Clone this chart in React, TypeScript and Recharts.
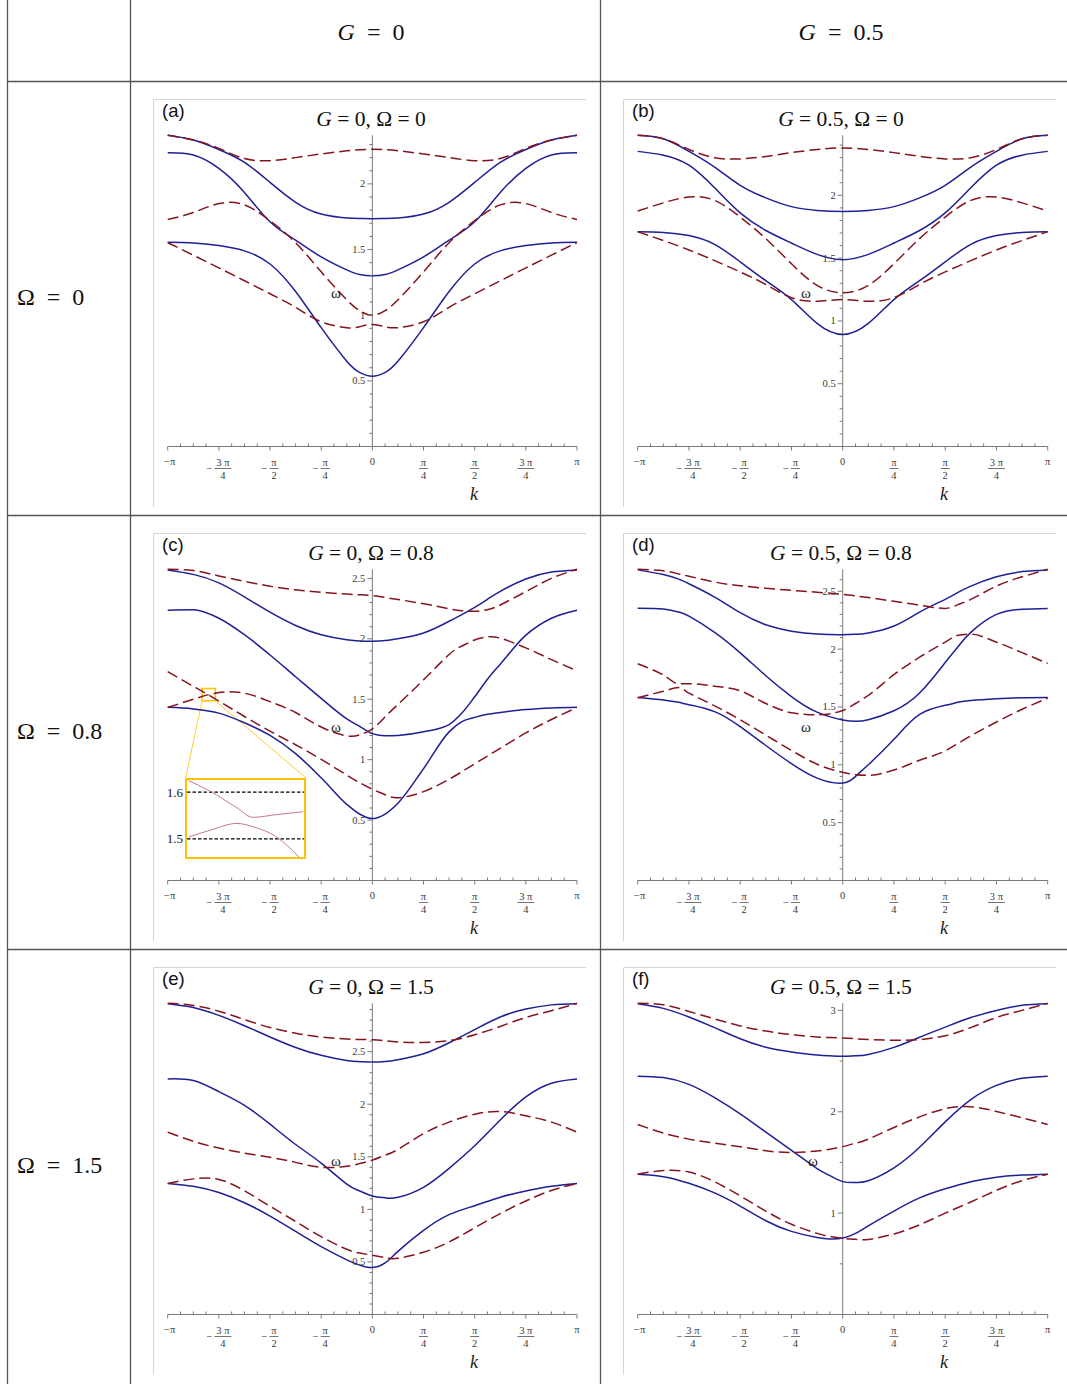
import React from 'react';
import { LineChart, Line, XAxis, YAxis, ReferenceLine, ReferenceArea } from 'recharts';

const BLUE = '#1f1f96';
const RED = '#86141f';
const AXIS = '#7a7a7a';
const TXT = '#3a3a3a';
const SERIF = '"Liberation Serif", "Times New Roman", serif';
const SANS = '"Liberation Sans", Arial, sans-serif';

// k grids, in units of pi
const K17 = [-1, -0.875, -0.75, -0.625, -0.5, -0.375, -0.25, -0.125, 0, 0.125, 0.25, 0.375, 0.5, 0.625, 0.75, 0.875, 1];
const K19 = [-1, -0.875, -0.75, -0.625, -0.5, -0.375, -0.25, -0.125, -0.0625, 0, 0.0625, 0.125, 0.25, 0.375, 0.5, 0.625, 0.75, 0.875, 1];
const K_C = [-1, -0.875, -0.75, -0.625, -0.5, -0.375, -0.25, -0.125, -0.0625, 0, 0.0625, 0.125, 0.25, 0.375, 0.4375, 0.5, 0.5625, 0.625, 0.75, 0.875, 1];
const K_D = [-1, -0.875, -0.8, -0.75, -0.625, -0.5, -0.375, -0.25, -0.125, 0, 0.0625, 0.125, 0.25, 0.375, 0.5, 0.5625, 0.625, 0.75, 0.875, 1];

// (a) G=0, Omega=0
const A_B1 = [2.37, 2.334, 2.262, 2.164, 2.011, 1.86, 1.77, 1.74, 1.736, 1.735, 1.736, 1.74, 1.77, 1.86, 2.011, 2.164, 2.262, 2.334, 2.37];
const A_B2 = [2.237, 2.22, 2.118, 1.935, 1.711, 1.571, 1.444, 1.345, 1.31, 1.3, 1.31, 1.345, 1.444, 1.571, 1.711, 1.935, 2.118, 2.22, 2.237];
const A_B3 = [1.555, 1.55, 1.53, 1.49, 1.39, 1.18, 0.905, 0.65, 0.565, 0.535, 0.565, 0.65, 0.905, 1.18, 1.39, 1.49, 1.53, 1.55, 1.555];
const A_R1 = [2.37, 2.334, 2.27, 2.193, 2.177, 2.2, 2.228, 2.252, 2.26, 2.263, 2.26, 2.252, 2.228, 2.2, 2.177, 2.193, 2.27, 2.334, 2.37];
const A_R2 = [1.728, 1.782, 1.85, 1.84, 1.72, 1.552, 1.33, 1.117, 1.035, 1.0, 1.035, 1.117, 1.33, 1.552, 1.72, 1.84, 1.85, 1.782, 1.728];
const A_R3 = [1.553, 1.457, 1.36, 1.262, 1.163, 1.06, 0.95, 0.905, 0.912, 0.93, 0.912, 0.905, 0.95, 1.06, 1.163, 1.262, 1.36, 1.457, 1.553];

// (b) G=0.5, Omega=0
const B_B1 = [2.478, 2.45, 2.35, 2.225, 2.08, 1.98, 1.91, 1.88, 1.872, 1.88, 1.91, 1.98, 2.08, 2.225, 2.35, 2.45, 2.478];
const B_B2 = [2.35, 2.32, 2.24, 2.06, 1.86, 1.72, 1.62, 1.53, 1.487, 1.53, 1.62, 1.72, 1.86, 2.06, 2.24, 2.32, 2.35];
const B_B3 = [1.71, 1.705, 1.68, 1.61, 1.47, 1.32, 1.17, 0.98, 0.892, 0.98, 1.17, 1.32, 1.47, 1.61, 1.68, 1.705, 1.71];
const B_R1 = [2.478, 2.45, 2.365, 2.3, 2.29, 2.31, 2.34, 2.365, 2.377, 2.365, 2.34, 2.31, 2.29, 2.3, 2.365, 2.45, 2.478];
const B_R2 = [1.875, 1.94, 1.987, 1.96, 1.827, 1.655, 1.455, 1.283, 1.224, 1.283, 1.455, 1.655, 1.827, 1.96, 1.987, 1.94, 1.875];
const B_R3 = [1.71, 1.64, 1.565, 1.48, 1.39, 1.29, 1.185, 1.157, 1.17, 1.157, 1.185, 1.29, 1.39, 1.48, 1.565, 1.64, 1.71];

// (c) G=0, Omega=0.8
const C_B1 = [2.57, 2.533, 2.463, 2.347, 2.22, 2.11, 2.034, 1.992, 1.982, 1.98, 1.985, 2.001, 2.048, 2.145, 2.2, 2.26, 2.327, 2.393, 2.495, 2.553, 2.57];
const C_B2 = [2.237, 2.24, 2.17, 2.034, 1.866, 1.686, 1.507, 1.338, 1.276, 1.215, 1.197, 1.2, 1.23, 1.29, 1.385, 1.52, 1.665, 1.79, 2.03, 2.17, 2.237];
const C_B3 = [1.433, 1.42, 1.385, 1.305, 1.2, 1.05, 0.85, 0.63, 0.55, 0.512, 0.55, 0.64, 0.925, 1.23, 1.315, 1.35, 1.376, 1.39, 1.415, 1.428, 1.433];
const C_R1 = [2.575, 2.565, 2.52, 2.475, 2.435, 2.405, 2.385, 2.37, 2.364, 2.358, 2.342, 2.325, 2.29, 2.248, 2.232, 2.228, 2.24, 2.28, 2.39, 2.5, 2.575];
const C_R2 = [1.728, 1.607, 1.485, 1.357, 1.236, 1.123, 1.002, 0.872, 0.81, 0.755, 0.71, 0.685, 0.735, 0.838, 0.9, 0.965, 1.03, 1.094, 1.221, 1.332, 1.432];
const C_R3 = [1.431, 1.5, 1.555, 1.55, 1.48, 1.39, 1.27, 1.197, 1.205, 1.255, 1.355, 1.457, 1.66, 1.87, 1.94, 1.99, 2.015, 2.005, 1.925, 1.828, 1.736];

// (d) G=0.5, Omega=0.8
const D_B1 = [2.685, 2.645, 2.605, 2.565, 2.45, 2.315, 2.21, 2.155, 2.13, 2.125, 2.128, 2.14, 2.2, 2.32, 2.43, 2.49, 2.545, 2.625, 2.67, 2.685];
const D_B2 = [2.354, 2.346, 2.32, 2.285, 2.145, 1.968, 1.77, 1.59, 1.455, 1.388, 1.376, 1.39, 1.467, 1.62, 1.884, 2.02, 2.145, 2.3, 2.345, 2.352];
const D_B3 = [1.582, 1.56, 1.54, 1.52, 1.46, 1.33, 1.167, 1.01, 0.885, 0.842, 0.9, 1.0, 1.22, 1.435, 1.514, 1.54, 1.555, 1.57, 1.58, 1.582];
const D_R1 = [2.69, 2.677, 2.65, 2.63, 2.58, 2.548, 2.526, 2.508, 2.492, 2.474, 2.46, 2.446, 2.413, 2.38, 2.352, 2.385, 2.43, 2.545, 2.625, 2.69];
const D_R2 = [1.873, 1.777, 1.7, 1.7, 1.68, 1.64, 1.53, 1.45, 1.432, 1.47, 1.53, 1.6, 1.78, 1.93, 2.06, 2.12, 2.13, 2.06, 1.97, 1.876];
const D_R3 = [1.58, 1.635, 1.668, 1.62, 1.51, 1.39, 1.257, 1.125, 1.005, 0.935, 0.915, 0.91, 0.955, 1.04, 1.12, 1.185, 1.25, 1.37, 1.48, 1.576];

// (e) G=0, Omega=1.5
const E_B1 = [2.956, 2.92, 2.845, 2.747, 2.64, 2.54, 2.465, 2.415, 2.405, 2.402, 2.407, 2.424, 2.48, 2.585, 2.71, 2.83, 2.905, 2.945, 2.956];
const E_B2 = [2.241, 2.225, 2.12, 1.99, 1.81, 1.617, 1.44, 1.24, 1.175, 1.127, 1.11, 1.115, 1.21, 1.39, 1.605, 1.85, 2.07, 2.2, 2.241];
const E_B3 = [1.247, 1.22, 1.16, 1.063, 0.936, 0.79, 0.645, 0.52, 0.47, 0.446, 0.49, 0.6, 0.8, 0.95, 1.035, 1.115, 1.175, 1.22, 1.247];
const E_R1 = [2.96, 2.94, 2.885, 2.805, 2.73, 2.675, 2.64, 2.62, 2.616, 2.614, 2.603, 2.592, 2.588, 2.605, 2.66, 2.74, 2.825, 2.89, 2.96];
const E_R2 = [1.734, 1.648, 1.583, 1.535, 1.495, 1.447, 1.4, 1.41, 1.435, 1.468, 1.515, 1.57, 1.72, 1.83, 1.905, 1.93, 1.89, 1.83, 1.734];
const E_R3 = [1.247, 1.29, 1.285, 1.177, 1.03, 0.885, 0.74, 0.62, 0.585, 0.563, 0.54, 0.535, 0.592, 0.69, 0.825, 0.96, 1.08, 1.18, 1.247];

// (f) G=0.5, Omega=1.5
const F_B1 = [3.066, 3.02, 2.935, 2.83, 2.72, 2.636, 2.59, 2.56, 2.552, 2.548, 2.552, 2.565, 2.635, 2.735, 2.835, 2.93, 3.0, 3.05, 3.066];
const F_B2 = [2.351, 2.337, 2.27, 2.14, 1.98, 1.8, 1.62, 1.44, 1.37, 1.311, 1.302, 1.32, 1.447, 1.65, 1.9, 2.12, 2.26, 2.33, 2.351];
const F_B3 = [1.384, 1.36, 1.295, 1.2, 1.07, 0.925, 0.82, 0.76, 0.746, 0.754, 0.8, 0.875, 1.02, 1.15, 1.24, 1.31, 1.355, 1.375, 1.384];
const F_R1 = [3.07, 3.056, 2.99, 2.916, 2.847, 2.796, 2.762, 2.738, 2.733, 2.728, 2.72, 2.713, 2.705, 2.712, 2.75, 2.83, 2.93, 3.0, 3.07];
const F_R2 = [1.875, 1.79, 1.73, 1.69, 1.655, 1.615, 1.598, 1.613, 1.63, 1.656, 1.69, 1.73, 1.845, 1.95, 2.03, 2.05, 2.003, 1.94, 1.875];
const F_R3 = [1.384, 1.42, 1.405, 1.31, 1.17, 1.02, 0.89, 0.8, 0.77, 0.751, 0.742, 0.74, 0.795, 0.885, 1.0, 1.11, 1.225, 1.32, 1.384];

// inset of (c): magnified avoided crossing
const INSET_K = [-0.831, -0.8186, -0.8043, -0.7954, -0.7828, -0.7676];
const INSET_UP = [1.6245, 1.6006, 1.5665, 1.546, 1.5516, 1.558];
const INSET_LO = [1.504, 1.519, 1.533, 1.526, 1.5053, 1.452];
const INSET_TICKS = [1.5, 1.6];

const X_TICKS: number[] = [];
for (let i = -16; i <= 16; i++) X_TICKS.push(i / 16);

const COLS = [131, 601];
const ROWS = [82, 516, 950];
const CELL_W = [470, 466];
const CELL_H = 434;
const PL = 36.7;
const PT = 53.3;
const PB = 364.5;
const PR = [446, 446.7];

const PANELS = [
  { tag: '(a)', G: '0', W: '0', col: 0, row: 0, k: K19, blue: [A_B1, A_B2, A_B3], red: [A_R1, A_R2, A_R3], ymax: 2.37, step: 0.1, majorEvery: 5, omegaX: 205, mono: [] as string[] },
  { tag: '(b)', G: '0.5', W: '0', col: 1, row: 0, k: K17, blue: [B_B1, B_B2, B_B3], red: [B_R1, B_R2, B_R3], ymax: 2.478, step: 0.1, majorEvery: 5, omegaX: 205, mono: [] as string[] },
  { tag: '(c)', G: '0', W: '0.8', col: 0, row: 1, k: K_C, blue: [C_B1, C_B2, C_B3], red: [C_R1, C_R2, C_R3], ymax: 2.575, step: 0.1, majorEvery: 5, omegaX: 205, mono: ['b1', 'b2'] },
  { tag: '(d)', G: '0.5', W: '0.8', col: 1, row: 1, k: K_D, blue: [D_B1, D_B2, D_B3], red: [D_R1, D_R2, D_R3], ymax: 2.69, step: 0.1, majorEvery: 5, omegaX: 205, mono: ['r1', 'r2'] },
  { tag: '(e)', G: '0', W: '1.5', col: 0, row: 2, k: K19, blue: [E_B1, E_B2, E_B3], red: [E_R1, E_R2, E_R3], ymax: 2.96, step: 0.1, majorEvery: 5, omegaX: 205, mono: [] as string[] },
  { tag: '(f)', G: '0.5', W: '1.5', col: 1, row: 2, k: K19, blue: [F_B1, F_B2, F_B3], red: [F_R1, F_R2, F_R3], ymax: 3.07, step: 0.5, majorEvery: 2, omegaX: 212, mono: [] as string[] },
];

function yTicks(ymax: number, step: number) {
  const t: number[] = [];
  for (let i = 1; i * step <= ymax + 1e-9; i++) t.push(Math.round(i * step * 1000) / 1000);
  return t;
}

function XTick(props: any) {
  const { x, payload, axisY } = props;
  const i = Math.round(payload.value * 16);
  if (i % 4 !== 0) {
    return <line x1={x} x2={x} y1={axisY - 3} y2={axisY} stroke={AXIS} strokeWidth={1} />;
  }
  const j = i / 4;
  const tick = <line x1={x} x2={x} y1={axisY} y2={axisY + 4} stroke={AXIS} strokeWidth={1} />;
  const common = { fontFamily: SERIF, fontSize: 10.5, fill: TXT };
  if (j === 0 || j === 4 || j === -4) {
    const label = j === 0 ? '0' : j === 4 ? 'π' : '−π';
    return (
      <g>
        {tick}
        <text x={x + (j === -4 ? 2 : 0)} y={axisY + 18} textAnchor="middle" {...common}>{label}</text>
      </g>
    );
  }
  const n = Math.abs(j);
  const num = n === 3 ? '3 π' : 'π';
  const den = n === 2 ? '2' : '4';
  const bw = n === 3 ? 17 : 9;
  const fx = x + (j < 0 ? 4 : 0);
  return (
    <g>
      {tick}
      {j < 0 && <text x={fx - bw / 2 - 2} y={axisY + 25} textAnchor="end" {...common}>−</text>}
      <text x={fx} y={axisY + 19} textAnchor="middle" {...common}>{num}</text>
      <line x1={fx - bw / 2} x2={fx + bw / 2} y1={axisY + 22} y2={axisY + 22} stroke={TXT} strokeWidth={0.7} />
      <text x={fx} y={axisY + 32} textAnchor="middle" {...common}>{den}</text>
    </g>
  );
}

function YTick(props: any) {
  const { y, payload, axisX, step, majorEvery } = props;
  const v = payload.value;
  const major = Math.round(v / step) % majorEvery === 0;
  return (
    <g>
      <line x1={axisX - (major ? 5 : 3)} x2={axisX} y1={y} y2={y} stroke={AXIS} strokeWidth={1} />
      {major && (
        <text x={axisX - 7} y={y + 3.5} textAnchor="end" fontFamily={SERIF} fontSize={10.5} fill={TXT}>{String(v)}</text>
      )}
    </g>
  );
}

function Panel({ p }: { p: any }) {
  const col = p.col;
  const cellW = CELL_W[col];
  const plotR = PR[col];
  const axisX = PL + (plotR - PL) / 2;
  const data = p.k.map((kk: number, i: number) => ({
    k: kk,
    b0: p.blue[0][i], b1: p.blue[1][i], b2: p.blue[2][i],
    r0: p.red[0][i], r1: p.red[1][i], r2: p.red[2][i],
  }));
  const yt = yTicks(p.ymax, p.step);
  const curve = (key: string) => (p.mono.includes(key) ? 'monotone' : 'natural');
  return (
    <div style={{ position: 'absolute', left: COLS[col], top: ROWS[p.row], width: cellW, height: CELL_H }}>
      <LineChart width={cellW} height={CELL_H} data={data}
        margin={{ top: PT, left: PL, right: cellW - plotR, bottom: CELL_H - PB }}>
        <XAxis dataKey="k" type="number" domain={[-1, 1]} ticks={X_TICKS} interval={0} mirror
          axisLine={{ stroke: AXIS, strokeWidth: 1 }} tickLine={false}
          tick={(tp: any) => <XTick {...tp} axisY={PB} />} />
        <YAxis type="number" domain={[0, p.ymax]} ticks={yt} interval={0} mirror
          axisLine={false} tickLine={false}
          tick={(tp: any) => <YTick {...tp} axisX={axisX} step={p.step} majorEvery={p.majorEvery} />} />
        <ReferenceLine x={0} stroke={AXIS} strokeWidth={1} />
        {p.tag === '(c)' && (
          <ReferenceArea x1={-0.832} x2={-0.767} y1={1.487} y2={1.589} stroke="#FFC000" strokeWidth={1.6} fill="none" fillOpacity={0} />
        )}
        {p.tag === '(c)' && (
          <ReferenceLine segment={[{ x: -0.832, y: 1.487 }, { x: -0.912, y: 0.851 }]} stroke="#FFC000" strokeWidth={0.8} />
        )}
        {p.tag === '(c)' && (
          <ReferenceLine segment={[{ x: -0.767, y: 1.487 }, { x: -0.326, y: 0.851 }]} stroke="#FFC000" strokeWidth={0.8} />
        )}
        {['b0', 'b1', 'b2'].map((key) => (
          <Line key={key} dataKey={key} type={curve(key)} stroke={BLUE} strokeWidth={1.5} dot={false} activeDot={false} isAnimationActive={false} />
        ))}
        {['r0', 'r1', 'r2'].map((key) => (
          <Line key={key} dataKey={key} type={curve(key)} stroke={RED} strokeWidth={1.5} strokeDasharray="11 5" dot={false} activeDot={false} isAnimationActive={false} />
        ))}
      </LineChart>
    </div>
  );
}

function Inset() {
  const data = INSET_K.map((kk, i) => ({ k: kk, u: INSET_UP[i], l: INSET_LO[i] }));
  return (
    <div style={{ position: 'absolute', left: 160, top: 777.5, width: 146, height: 81 }}>
      <div style={{ position: 'absolute', left: 25, top: 0, width: 121, height: 81, background: '#fff', border: '2px solid #FFC000', boxSizing: 'border-box' }} />
      <div style={{ position: 'absolute', left: 0, top: 0 }}>
        <LineChart width={146} height={81} data={data} margin={{ top: 2, right: 2, bottom: 2, left: 27 }}>
          <XAxis dataKey="k" type="number" domain={[-0.832, -0.767]} hide allowDataOverflow />
          <YAxis type="number" domain={[1.461, 1.626]} ticks={INSET_TICKS} interval={0} mirror
            axisLine={false} tickLine={false} allowDataOverflow
            tick={(tp: any) => (
              <text x={23} y={tp.y + 4.5} textAnchor="end" fontFamily={SERIF} fontSize={13} fill="#111">{Number(tp.payload.value).toFixed(1)}</text>
            )} />
          <ReferenceLine y={1.6} stroke="#000" strokeWidth={1.3} strokeDasharray="3.5 2" />
          <ReferenceLine y={1.5} stroke="#000" strokeWidth={1.3} strokeDasharray="3.5 2" />
          <Line dataKey="u" type="monotone" stroke="#c47a8e" strokeWidth={1} dot={false} activeDot={false} isAnimationActive={false} />
          <Line dataKey="l" type="monotone" stroke="#c47a8e" strokeWidth={1} dot={false} activeDot={false} isAnimationActive={false} />
        </LineChart>
      </div>
    </div>
  );
}

function Overlay() {
  return (
    <svg width={1067} height={1384} style={{ position: 'absolute', left: 0, top: 0, pointerEvents: 'none' }}>
      <g stroke="#555" strokeWidth={1.3}>
        <line x1={7.5} y1={0} x2={7.5} y2={1384} />
        <line x1={130.5} y1={0} x2={130.5} y2={1384} />
        <line x1={600.5} y1={0} x2={600.5} y2={1384} />
        <line x1={7.5} y1={81.5} x2={1067} y2={81.5} />
        <line x1={7.5} y1={515.5} x2={1067} y2={515.5} />
        <line x1={7.5} y1={949.5} x2={1067} y2={949.5} />
      </g>
      <text x={371} y={40} textAnchor="middle" fontFamily={SERIF} fontSize={24} fill="#111">
        <tspan fontStyle="italic">G</tspan>{'\u2002=\u20020'}
      </text>
      <text x={841} y={40} textAnchor="middle" fontFamily={SERIF} fontSize={24} fill="#111">
        <tspan fontStyle="italic">G</tspan>{'\u2002=\u20020.5'}
      </text>
      <text x={17} y={305} fontFamily={SERIF} fontSize={24} fill="#111">{'Ω\u2002=\u20020'}</text>
      <text x={17} y={739} fontFamily={SERIF} fontSize={24} fill="#111">{'Ω\u2002=\u20020.8'}</text>
      <text x={17} y={1173} fontFamily={SERIF} fontSize={24} fill="#111">{'Ω\u2002=\u20021.5'}</text>
      {PANELS.map((p) => {
        const cx = COLS[p.col];
        const ry = ROWS[p.row];
        return (
          <g key={p.tag}>
            <line x1={cx + 22.5} y1={ry + 17.5} x2={cx + 22.5} y2={ry + 425} stroke="#d6d6d6" strokeWidth={1} />
            <line x1={cx + 22.5} y1={ry + 17.5} x2={cx + 455} y2={ry + 17.5} stroke="#d6d6d6" strokeWidth={1} />
            <text x={cx + 31} y={ry + 35} fontFamily={SANS} fontSize={18.5} fill="#111">{p.tag}</text>
            <text x={cx + 240} y={ry + 44} textAnchor="middle" fontFamily={SERIF} fontSize={21.5} fill="#111">
              <tspan fontStyle="italic">G</tspan>{` = ${p.G}, Ω = ${p.W}`}
            </text>
            <text x={cx + p.omegaX} y={ry + 216} textAnchor="middle" fontFamily={SERIF} fontSize={15} fill="#222">ω</text>
            <text x={cx + 343} y={ry + 418} textAnchor="middle" fontFamily={SERIF} fontStyle="italic" fontSize={18} fill="#222">k</text>
          </g>
        );
      })}
    </svg>
  );
}

export default function App() {
  return (
    <div style={{ position: 'absolute', left: 0, top: 0, width: 1067, height: 1384, background: '#fff', overflow: 'hidden' }}>
      {PANELS.map((p) => <Panel key={p.tag} p={p} />)}
      <Inset />
      <Overlay />
    </div>
  );
}
